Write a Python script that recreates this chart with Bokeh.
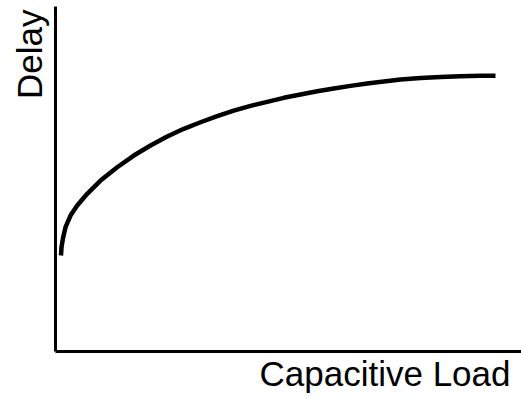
from bokeh.plotting import figure
from bokeh.models import Range1d, FixedTicker, Title
from bokeh.embed import file_html
from bokeh.resources import INLINE

# Capacitive load (arbitrary units) and delay (arbitrary units)
load = [0.118, 0.129, 0.165, 0.215, 0.322, 0.466, 0.680, 0.966, 1.324, 1.680,
        2.039, 2.397, 2.753, 3.112, 3.470, 3.826, 4.185, 4.543, 4.899, 5.258,
        5.616, 5.972, 6.330, 6.689, 7.045, 7.403, 7.833, 8.262, 8.691, 9.120, 9.442]
delay = [2.799, 3.041, 3.332, 3.624, 3.965, 4.257, 4.598, 4.985, 5.373, 5.714,
         6.006, 6.268, 6.493, 6.685, 6.860, 7.026, 7.163, 7.280, 7.397, 7.493,
         7.589, 7.668, 7.746, 7.813, 7.872, 7.930, 7.974, 8.006, 8.026, 8.038, 8.044]

x_label = "Capacitive Load"
y_label = "Delay"

p = figure(width=521, height=399, output_backend="svg", toolbar_location=None,
           x_range=Range1d(0, 10), y_range=Range1d(0, 10.06),
           min_border_left=55, min_border_right=0, min_border_top=6, min_border_bottom=48)
p.outline_line_color = None
p.xgrid.visible = False
p.ygrid.visible = False
p.background_fill_color = "white"
p.border_fill_color = "white"

for ax in (p.xaxis[0], p.yaxis[0]):
    ax.ticker = FixedTicker(ticks=[])
    ax.major_tick_line_color = None
    ax.minor_tick_line_color = None
    ax.major_label_text_font_size = "0px"
    ax.major_tick_out = 0
    ax.major_tick_in = 0
    ax.minor_tick_out = 0
    ax.minor_tick_in = 0
    ax.axis_line_width = 3
    ax.axis_line_color = "black"

p.line(load, delay, line_width=4.5, line_color="black", line_join="round")

font = "Liberation Sans"
p.add_layout(Title(text=x_label, align="right", offset=11, standoff=0,
                   text_font=font, text_font_size="35px", text_font_style="normal",
                   text_color="black"), "below")
p.add_layout(Title(text=y_label, align="right", offset=3, standoff=14,
                   text_font=font, text_font_size="35px", text_font_style="normal",
                   text_color="black"), "left")

open("out.html", "w").write(file_html(p, INLINE))
